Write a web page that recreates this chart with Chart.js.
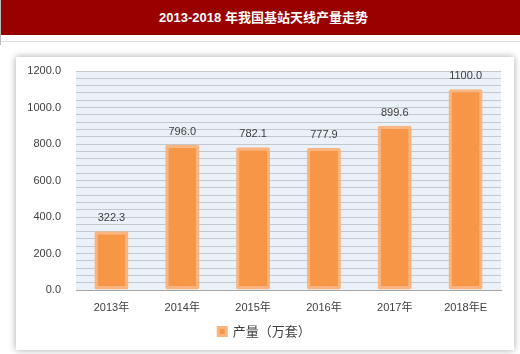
<!DOCTYPE html>
<html lang="zh">
<head>
  <meta charset="UTF-8">
  <title>2013-2018 年我国基站天线产量走势</title>
  <script src="https://cdn.jsdelivr.net/npm/chart.js"></script>
  <style>
    body {
      margin: 0;
      width: 520px;
      height: 354px;
      background: #fff;
      position: relative;
      overflow: hidden;
      font-family: "Liberation Sans", "Noto Sans CJK SC", sans-serif;
    }
    .title {
      position: absolute;
      left: 1px; top: 0;
      width: 519px; height: 35px;
      background: #990000;
      color: #fff;
      font-weight: bold;
      font-size: 13px;
      line-height: 35px;
      text-align: center;
      text-indent: 6px;
    }
    .edge {
      position: absolute;
      left: 0; top: 0;
      width: 1px; height: 45px;
      background: #bbb;
    }
    .rule {
      position: absolute;
      left: 1px; top: 41px;
      width: 519px; height: 1px;
      background: #ddd;
    }
    .panel {
      position: absolute;
      left: 16px; top: 57px;
      width: 498px; height: 293px;
      background: #fff;
      box-shadow: 0 0 7px rgba(0, 0, 0, 0.35);
    }
  </style>
</head>
<body>
  <div class="edge"></div>
  <div class="title">2013-2018 年我国基站天线产量走势</div>
  <div class="rule"></div>
  <div class="panel"><canvas id="chart" width="498" height="293"></canvas></div>
  <script>
    const years = ['2013年', '2014年', '2015年', '2016年', '2017年', '2018年E'];
    const output = [322.3, 796.0, 782.1, 777.9, 899.6, 1100.0];
    const seriesName = '产量（万套）';

    const plotBg = {
      id: 'plotBg',
      beforeDraw(chart) {
        const { ctx, chartArea: a } = chart;
        ctx.save();
        ctx.fillStyle = '#eaf1f8';
        ctx.fillRect(a.left, a.top, a.right - a.left, a.bottom - a.top);
        ctx.restore();
      }
    };

    const valueLabels = {
      id: 'valueLabels',
      afterDatasetsDraw(chart) {
        const ctx = chart.ctx;
        const meta = chart.getDatasetMeta(0);
        ctx.save();
        ctx.fillStyle = '#404040';
        ctx.font = '11px "Liberation Sans", sans-serif';
        ctx.textAlign = 'center';
        ctx.textBaseline = 'middle';
        meta.data.forEach((bar, i) => {
          ctx.fillText(output[i].toFixed(1), bar.x, bar.y - 13);
        });
        ctx.restore();
      }
    };

    new Chart(document.getElementById('chart'), {
      type: 'bar',
      data: {
        labels: years,
        datasets: [{
          label: seriesName,
          data: output,
          backgroundColor: '#f79646',
          borderColor: '#f9b47f',
          borderWidth: 3,
          borderRadius: 2,
          borderSkipped: false,
          barPercentage: 0.48,
          categoryPercentage: 1
        }]
      },
      options: {
        responsive: false,
        animation: false,
        layout: { padding: { top: 14, right: 13, bottom: 2, left: 12 } },
        plugins: {
          tooltip: { enabled: false },
          legend: {
            position: 'bottom',
            labels: {
              color: '#404040',
              font: { size: 13, family: '"Noto Sans CJK SC", sans-serif' },
              boxWidth: 8,
              boxHeight: 8,
              padding: 9
            }
          }
        },
        scales: {
          x: {
            grid: { display: false },
            border: { color: '#a6a6a6' },
            ticks: {
              color: '#404040',
              font: { size: 11, family: '"Liberation Sans", "Noto Sans CJK SC", sans-serif' },
              padding: 3,
              maxRotation: 0
            },
            afterFit(scale) { scale.height = 26; }
          },
          y: {
            min: 0,
            max: 1200,
            grid: { color: '#c3c8cd', drawTicks: false },
            border: { display: false },
            ticks: {
              stepSize: 40,
              autoSkip: false,
              color: '#404040',
              font: { size: 11, family: '"Liberation Sans", sans-serif' },
              padding: 15,
              callback: v => (v % 200 === 0 ? v.toFixed(1) : '')
            },
            afterFit(scale) {
              scale.width = 48;
              scale.paddingTop = 0;
              scale.paddingBottom = 0;
            }
          }
        }
      },
      plugins: [plotBg, valueLabels]
    });
  </script>
</body>
</html>
